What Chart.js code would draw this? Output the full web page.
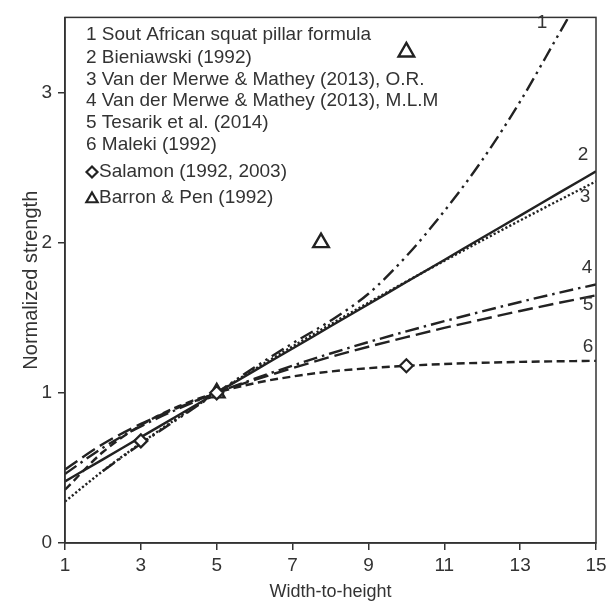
<!DOCTYPE html>
<html>
<head>
<meta charset="utf-8">
<script src="https://cdn.jsdelivr.net/npm/chart.js@4.4.0/dist/chart.umd.min.js"></script>
<style>
  html, body { margin: 0; padding: 0; background: #fff; }
</style>
</head>
<body>
<canvas id="strengthChart" width="612" height="612"></canvas>
<script>
// width-to-height ratios (x) shared by curves 2-6
const ratios = [1, 2, 3, 4, 5, 6, 7, 8, 9, 10, 11, 12, 13, 14, 15];
// curve 1 starts at w/h = 2 and leaves the top of the plot
const squatRatios = [2, 3, 4, 5, 6, 7, 8, 9, 10, 11, 12, 13, 14, 14.5];

const squatPillar = [0.48, 0.66, 0.83, 1.0, 1.17, 1.33, 1.48, 1.66, 1.91, 2.21, 2.55, 2.94, 3.38, 3.6];
const bieniawski  = [0.41, 0.557, 0.705, 0.852, 1.0, 1.148, 1.295, 1.443, 1.59, 1.738, 1.885, 2.033, 2.18, 2.328, 2.475];
const vdmOR       = [0.276, 0.48, 0.665, 0.837, 1.0, 1.157, 1.309, 1.456, 1.6, 1.741, 1.879, 2.015, 2.148, 2.279, 2.408];
const vdmMLM      = [0.46, 0.635, 0.777, 0.895, 1.0, 1.094, 1.181, 1.262, 1.338, 1.409, 1.477, 1.542, 1.605, 1.665, 1.722];
const tesarik     = [0.49, 0.659, 0.793, 0.903, 1.0, 1.086, 1.165, 1.239, 1.307, 1.371, 1.432, 1.489, 1.545, 1.598, 1.649];
const maleki      = [0.355, 0.606, 0.784, 0.911, 1.0, 1.064, 1.109, 1.142, 1.164, 1.18, 1.192, 1.2, 1.206, 1.21, 1.213];

// measured points
const salamonX = [3, 5, 10];
const salamonY = [0.68, 1.0, 1.18];
const barronX  = [5, 7.75, 10];
const barronY  = [1.0, 2.0, 3.27];

const xTicks = [1, 3, 5, 7, 9, 11, 13, 15];
const yTicks = [0, 1, 2, 3];

const legendLines = [
  '1 Sout African squat pillar formula',
  '2 Bieniawski (1992)',
  '3 Van der Merwe & Mathey (2013), O.R.',
  '4 Van der Merwe & Mathey (2013), M.L.M',
  '5 Tesarik et al. (2014)',
  '6 Maleki (1992)'
];
const curveNumbers = ['1', '2', '3', '4', '5', '6'];

const ink = '#222';
const textColor = '#333';
const fontFamily = '"Liberation Sans", Arial, Helvetica, sans-serif';

function pts(xs, ys) {
  return xs.map((x, i) => ({ x: x, y: ys[i] }));
}

function curve(xs, ys, dash, width) {
  return {
    data: pts(xs, ys),
    borderColor: ink,
    borderWidth: width || 2.4,
    borderDash: dash,
    pointRadius: 0,
    fill: false,
    cubicInterpolationMode: 'monotone'
  };
}

// legend, curve numbers and box border
const annotate = {
  id: 'annotate',
  afterDraw(chart) {
    const { ctx, chartArea: a } = chart;
    ctx.save();
    ctx.strokeStyle = '#333';
    ctx.lineWidth = 1.5;
    ctx.strokeRect(a.left, a.top, a.right - a.left, a.bottom - a.top);

    ctx.fillStyle = textColor;
    ctx.font = '19px ' + fontFamily;
    ctx.textBaseline = 'middle';
    ctx.textAlign = 'left';
    const rowY = [35, 58, 80, 101, 123, 145];
    legendLines.forEach((t, i) => ctx.fillText(t, 86, rowY[i]));

    // marker rows
    ctx.fillText('Salamon (1992, 2003)', 99, 172);
    ctx.fillText('Barron & Pen (1992)', 99, 198);
    ctx.strokeStyle = ink;
    ctx.fillStyle = '#fff';
    ctx.lineWidth = 2.2;
    Chart.helpers.drawPoint(ctx, { pointStyle: 'rectRot', radius: 5.5, borderWidth: 2.2 }, 92, 172);
    Chart.helpers.drawPoint(ctx, { pointStyle: 'triangle', radius: 6.5, borderWidth: 2.2 }, 92, 199);

    // curve numbers
    ctx.fillStyle = textColor;
    ctx.font = '19px ' + fontFamily;
    ctx.textAlign = 'center';
    const numPos = [[542, 23], [583, 155], [585, 197], [587, 268], [588, 305], [588, 347]];
    curveNumbers.forEach((n, i) => ctx.fillText(n, numPos[i][0], numPos[i][1]));
    ctx.restore();
  }
};

new Chart(document.getElementById('strengthChart'), {
  type: 'line',
  data: {
    datasets: [
      {
        data: pts(salamonX, salamonY),
        showLine: false,
        pointStyle: 'rectRot',
        pointRadius: 6.5,
        pointBackgroundColor: '#fff',
        pointBorderColor: ink,
        pointBorderWidth: 2.2
      },
      {
        data: pts(barronX, barronY),
        showLine: false,
        pointStyle: 'triangle',
        pointRadius: 9,
        pointBackgroundColor: '#fff',
        pointBorderColor: ink,
        pointBorderWidth: 2.4
      },
      curve(squatRatios, squatPillar, [14, 5, 2.5, 5, 2.5, 5]),
      curve(ratios, bieniawski, []),
      curve(ratios, vdmOR, [2.2, 2.2]),
      curve(ratios, vdmMLM, [14, 5, 2.5, 5]),
      curve(ratios, tesarik, [15, 6]),
      curve(ratios, maleki, [8, 4.5])
    ]
  },
  options: {
    responsive: false,
    animation: false,
    layout: { padding: { top: 8, right: 16, left: 0, bottom: 0 } },
    plugins: {
      legend: { display: false },
      tooltip: { enabled: false }
    },
    scales: {
      x: {
        type: 'linear',
        min: 1,
        max: 15,
        afterBuildTicks: s => { s.ticks = xTicks.map(v => ({ value: v })); },
        afterFit: s => { s.height = 69; },
        ticks: {
          color: textColor,
          font: { size: 19, family: fontFamily },
          padding: 4,
          maxRotation: 0
        },
        grid: { drawOnChartArea: false, tickLength: 7, color: '#333', lineWidth: 1.5 },
        border: { color: '#333', width: 1.5 },
        title: {
          display: true,
          text: 'Width-to-height',
          color: textColor,
          font: { size: 18, family: fontFamily },
          padding: { top: 0, bottom: 9 }
        }
      },
      y: {
        type: 'linear',
        min: 0,
        max: 3.5,
        afterBuildTicks: s => { s.ticks = yTicks.map(v => ({ value: v })); },
        afterFit: s => { s.width = 65; },
        ticks: {
          color: textColor,
          font: { size: 19, family: fontFamily },
          padding: 6
        },
        grid: { drawOnChartArea: false, tickLength: 7, color: '#333', lineWidth: 1.5 },
        border: { color: '#333', width: 1.5 },
        title: {
          display: true,
          text: 'Normalized strength',
          color: textColor,
          font: { size: 20, family: fontFamily },
          padding: { top: 19, bottom: 0 }
        }
      }
    }
  },
  plugins: [annotate]
});
</script>
</body>
</html>
